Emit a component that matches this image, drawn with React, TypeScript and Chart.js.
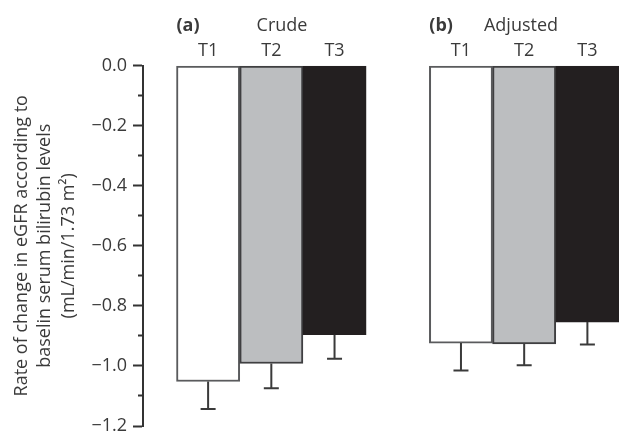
import React, { useEffect, useRef } from "react";
import { Chart, registerables } from "chart.js";

Chart.register(...registerables);

// ---- data ----
const tierLabels = ["T1", "T2", "T3"];
const panelTags = ["(a)", "(b)"];
const panelNames = ["Crude", "Adjusted"];
const crudeValues = [-1.052, -0.992, -0.896];
const crudeErrors = [0.091, 0.082, 0.08];
const adjustedValues = [-0.924, -0.927, -0.854];
const adjustedErrors = [0.091, 0.071, 0.075];
const yMin = -1.2;
const yMax = 0;
const yStep = 0.1;
const yTitle = [
  "Rate of change in eGFR according to",
  "baselin serum bilirubin levels",
  "(mL/min/1.73 m\u00B2)",
];

// ---- styles ----
const FONT = "'Open Sans', 'DejaVu Sans', sans-serif";
const TEXT = "#3a3a3a";
const barFills = ["#ffffff", "#bcbec0", "#231f20"];
const barBorders = ["#5a5b5d", "#3f3f41", "#231f20"];
const headerGaps = [57, 31];

const panels = [
  { values: crudeValues, errors: crudeErrors },
  { values: adjustedValues, errors: adjustedErrors },
];
const slotOf = (p: number, i: number) => p * 4 + i + 1;
const points = panels.flatMap((pan, p) =>
  pan.values.map((v, i) => ({ x: slotOf(p, i), y: v }))
);
const allErrors = panels.flatMap((pan) => pan.errors);
const tickSlots = panels.flatMap((pan, p) => pan.values.map((_, i) => slotOf(p, i)));
const fmt = (v: number) => {
  const r = Math.round(v * 10) / 10;
  if (r === 0) return "0.0";
  return r.toFixed(1).replace("-", "\u2212");
};

const errorBarPlugin = {
  id: "errorBars",
  afterDatasetsDraw(chart: any) {
    const ctx = chart.ctx;
    const y = chart.scales.y;
    const meta = chart.getDatasetMeta(0);
    ctx.save();
    ctx.strokeStyle = "#3a3a3a";
    ctx.lineWidth = 2;
    meta.data.forEach((el: any, i: number) => {
      const v = points[i].y;
      const e = allErrors[i];
      const y0 = y.getPixelForValue(v);
      const y1 = y.getPixelForValue(v - e);
      ctx.beginPath();
      ctx.moveTo(el.x, y0);
      ctx.lineTo(el.x, y1);
      ctx.moveTo(el.x - 7.5, y1);
      ctx.lineTo(el.x + 7.5, y1);
      ctx.stroke();
    });
    ctx.restore();
  },
};

const headerPlugin = {
  id: "headers",
  afterDraw(chart: any) {
    const ctx = chart.ctx;
    const meta = chart.getDatasetMeta(0);
    ctx.save();
    ctx.fillStyle = TEXT;
    ctx.textBaseline = "middle";
    ctx.textAlign = "left";
    panels.forEach((pan, p) => {
      const el = meta.data[p * 3];
      const left = el.x - el.width / 2;
      ctx.font = `bold 18px ${FONT}`;
      ctx.fillText(panelTags[p], left, 26);
      const w = ctx.measureText(panelTags[p]).width;
      ctx.font = `18px ${FONT}`;
      ctx.fillText(panelNames[p], left + w + headerGaps[p], 26);
    });
    ctx.restore();
  },
};

export default function App() {
  const ref = useRef<HTMLCanvasElement | null>(null);
  useEffect(() => {
    document.body.style.margin = "0";
    const canvas = ref.current!;
    const chart = new Chart(canvas, {
      type: "bar",
      data: {
        datasets: [
          {
            data: points as any,
            backgroundColor: points.map((_, i) => barFills[i % 3]),
            borderColor: points.map((_, i) => barBorders[i % 3]),
            borderWidth: 2,
            borderSkipped: false,
            barPercentage: 1,
            categoryPercentage: 1,
          },
        ],
      },
      options: {
        responsive: false,
        animation: false,
        layout: { padding: { left: 0, top: 0, right: 0, bottom: 5 } },
        plugins: { legend: { display: false }, tooltip: { enabled: false } },
        scales: {
          x: {
            type: "linear",
            position: "top",
            min: -0.03,
            max: 7.5,
            offset: false,
            grid: { display: false, drawTicks: false },
            border: { display: false },
            afterBuildTicks: (scale: any) => {
              scale.ticks = tickSlots.map((v) => ({ value: v }));
            },
            afterFit: (scale: any) => {
              scale.height = 65.5;
              scale.paddingLeft = 0;
              scale.paddingRight = 0;
            },
            ticks: {
              autoSkip: false,
              maxRotation: 0,
              padding: 4,
              color: TEXT,
              font: { family: FONT, size: 18 },
              callback: (value: any) => {
                const idx = tickSlots.indexOf(Number(value));
                return idx >= 0 ? tierLabels[idx % 3] : "";
              },
            },
          },
          y: {
            type: "linear",
            min: yMin,
            max: yMax,
            afterFit: (scale: any) => {
              scale.width = 143;
              scale.paddingTop = 0;
              scale.paddingBottom = 0;
            },
            border: { display: true, color: "#333", width: 2 },
            grid: {
              display: true,
              drawOnChartArea: false,
              drawTicks: true,
              tickLength: 10,
              tickColor: "#333",
              tickWidth: 2,
              tickBorderDash: (ctx: any) => {
                const v = ctx.tick ? ctx.tick.value : 0;
                return Math.abs(Math.round(v * 10)) % 2 === 1 ? [0, 5, 5, 0] : [];
              },
            } as any,
            title: {
              display: true,
              text: yTitle,
              color: TEXT,
              font: { family: FONT, size: 18, lineHeight: 1.3 },
              padding: { top: 10, bottom: 0 },
            },
            ticks: {
              stepSize: yStep,
              padding: 6,
              color: TEXT,
              font: { family: FONT, size: 18 },
              callback: (value: any) => {
                const v = Number(value);
                return Math.abs(Math.round(v * 10)) % 2 === 0 ? fmt(v) : "";
              },
            },
          },
        },
      },
      plugins: [errorBarPlugin, headerPlugin],
    });
    return () => chart.destroy();
  }, []);
  return (
    <div style={{ position: "fixed", left: 0, top: 0, width: 619, height: 431 }}>
      <canvas ref={ref} width={619} height={431} />
    </div>
  );
}
